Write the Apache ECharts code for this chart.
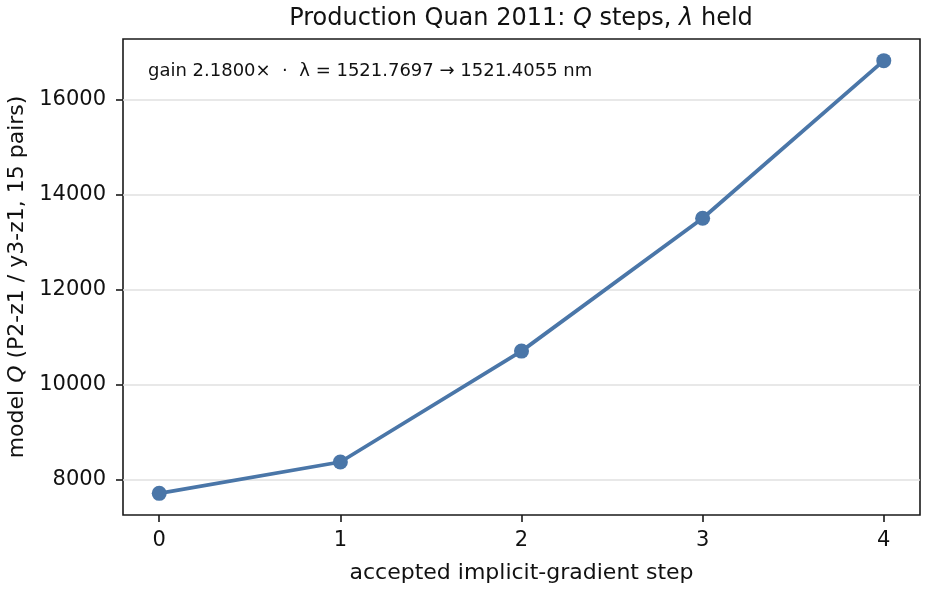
<!DOCTYPE html>
<html>
<head>
<meta charset="utf-8">
<script src="https://cdn.jsdelivr.net/npm/echarts@6/dist/echarts.min.js"></script>
<style>html,body{margin:0;padding:0;background:#fff}#c{width:928px;height:592px}</style>
</head>
<body>
<div id="c"></div>
<script>
var steps = [0, 1, 2, 3, 4];
var qValues = [7705, 8366, 10703, 13503, 16825];
var yTicks = [8000, 10000, 12000, 14000, 16000];
var xTicks = [0, 1, 2, 3, 4];

var F = 'DejaVu Sans';
var yLo = Math.min.apply(null, qValues), yHi = Math.max.apply(null, qValues);
var yPad = (yHi - yLo) * 0.05;
var chart = echarts.init(document.getElementById('c'), null, {renderer: 'canvas'});
chart.setOption({
  animation: false,
  backgroundColor: '#fff',
  title: {
    text: 'Production Quan 2011: {i|Q} steps, {i|λ} held',
    left: 521, top: 7, padding: 0, textAlign: 'center',
    textStyle: {fontFamily: F, fontSize: 24, fontWeight: 'normal', color: '#111',
      rich: {i: {fontFamily: F, fontSize: 24, fontStyle: 'italic', color: '#111'}}}
  },
  grid: {left: 123, right: 8, top: 39, bottom: 77, containLabel: false, outerBoundsMode: 'none',
    show: true, borderColor: '#1a1a1a', borderWidth: 1.6, backgroundColor: 'transparent'},
  graphic: [{
    type: 'text', x: 148, y: 71,
    style: {text: 'gain 2.1800×  ·  λ = 1521.7697 → 1521.4055 nm', fontFamily: F, fontSize: 18,
      fill: '#111', verticalAlign: 'middle'}
  }],
  xAxis: {
    type: 'value', min: -0.2, max: 4.2,
    name: 'accepted implicit-gradient step', nameLocation: 'middle', nameGap: 47,
    nameTextStyle: {fontFamily: F, fontSize: 22, color: '#111'},
    axisLine: {show: false, onZero: false},
    axisTick: {show: true, customValues: xTicks, length: 7, lineStyle: {color: '#1a1a1a', width: 1.6}},
    axisLabel: {customValues: xTicks, fontFamily: F, fontSize: 21, color: '#111', margin: 15},
    splitLine: {show: false}
  },
  yAxis: {
    type: 'value', min: yLo - yPad, max: yHi + yPad,
    name: 'model {i|Q} (P2-z1 / y3-z1, 15 pairs)', nameLocation: 'middle', nameGap: 94,
    nameTextStyle: {fontFamily: F, fontSize: 22, color: '#111',
      rich: {i: {fontFamily: F, fontSize: 22, fontStyle: 'italic', color: '#111'}}},
    axisLine: {show: false, onZero: false},
    axisTick: {show: true, customValues: yTicks, length: 7, lineStyle: {color: '#1a1a1a', width: 1.6}},
    axisLabel: {customValues: yTicks, fontFamily: F, fontSize: 21, color: '#111', margin: 17,
      formatter: function (v) { return String(v); }},
    splitLine: {show: true, lineStyle: {color: '#e0e0e0', width: 1.6}}
  },
  series: [{
    type: 'line',
    data: steps.map(function (s, i) { return [s, qValues[i]]; }),
    symbol: 'circle', symbolSize: 15,
    lineStyle: {color: '#4a76a8', width: 3.8},
    itemStyle: {color: '#4a76a8'},
    z: 3
  }]
});
</script>
</body>
</html>
